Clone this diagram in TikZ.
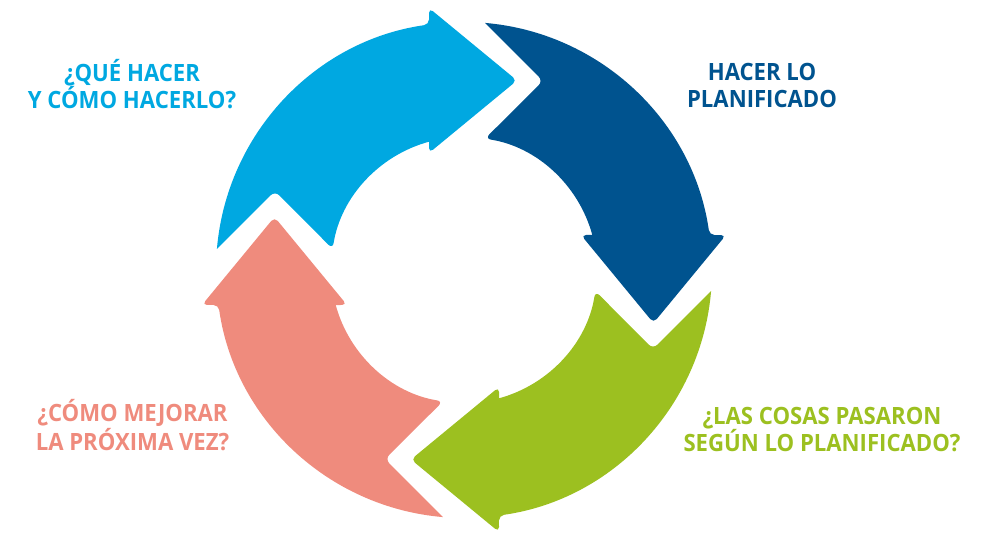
\documentclass[tikz,border=0pt]{standalone}
\usepackage{fontspec}
\newfontfamily\labelfont{Open Sans}[FakeStretch=0.93]
\definecolor{planblue}{HTML}{00A8E1}
\definecolor{doblue}{HTML}{00538F}
\definecolor{checkgreen}{HTML}{9CC020}
\definecolor{actsalmon}{HTML}{EF8B7D}
\tikzset{
  % one quarter of the cycle: curved shaft, notched tail, arrowhead
  cyclearrow/.pic={
    \fill[#1] (175.14:248) [rounded corners=6] -- (-189,79) -- (170.91:133) [sharp corners]
      arc[start angle=170.91, end angle=105.26, radius=133]
      [rounded corners=5] -- (-35,117) -- (53,189.5) -- (-35,262) -- (98.11:248) [sharp corners]
      arc[start angle=98.11, end angle=175.14, radius=248] -- cycle;
  },
  % two-line caption, anchored on the baseline of its last line
  steplabel/.style={font=\labelfont\bfseries\fontsize{23.8}{27}\selectfont,
    align=center, anchor=base, inner sep=0pt}
}
\begin{document}
\begin{tikzpicture}[x=1pt, y=1pt]
  \useasboundingbox (0,0) rectangle (982,-534);
  \coordinate (hub) at (464,-270);
  \pic at (hub) {cyclearrow=planblue};
  \pic[rotate=-90] at (hub) {cyclearrow=doblue};
  \pic[rotate=180] at (hub) {cyclearrow=checkgreen};
  \pic[rotate=90] at (hub) {cyclearrow=actsalmon};
  \node[steplabel, text=planblue] (plan) at (132,-108.3) {¿QUÉ HACER\\Y CÓMO HACERLO?};
  \node[steplabel, text=doblue] (do) at (762,-108) {HACER LO\\PLANIFICADO};
  \node[steplabel, text=checkgreen] (check) at (822,-451) {¿LAS COSAS PASARON\\SEGÚN LO PLANIFICADO?};
  \node[steplabel, text=actsalmon] (act) at (132.5,-450) {¿CÓMO MEJORAR\\LA PRÓXIMA VEZ?};
\end{tikzpicture}
\end{document}
